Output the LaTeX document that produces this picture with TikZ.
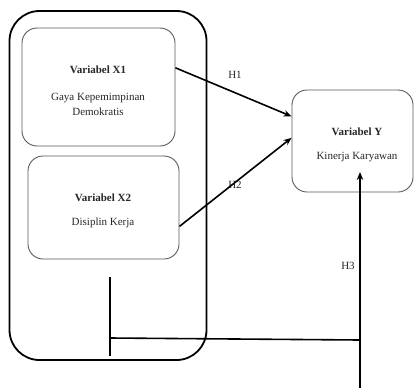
\documentclass[tikz,border=0pt]{standalone}
\usepackage{fontspec}
\setmainfont{Liberation Serif}
\usetikzlibrary{arrows.meta}
\begin{document}
\begin{tikzpicture}[x=1pt,y=-1pt,
  varbox/.style={draw=black!65,line width=0.9pt,rounded corners=15pt,inner sep=0pt},
  outerbox/.style={draw=black,line width=1.8pt,rounded corners=30pt,inner sep=0pt,minimum width=197pt,minimum height=349pt},
  txt/.style={font=\fontsize{11}{13}\selectfont,text=black!85,inner sep=0pt},
  btxt/.style={txt,font=\fontsize{11}{13}\selectfont\bfseries},
  conn/.style={line width=1.6pt,black},
  arr/.style={conn,-{Stealth[length=8pt,width=6.5pt]}}]
\useasboundingbox (0,0) rectangle (414,388);
\node[outerbox] (outer) at (108,185.5) {};
\node[varbox,minimum width=153pt,minimum height=118pt] (X1) at (98.5,87) {};
\node[varbox,minimum width=151pt,minimum height=103pt] (X2) at (103.5,207.5) {};
\node[varbox,minimum width=121pt,minimum height=102pt] (Y) at (352.5,141) {};
\node[btxt] (x1t) at (98,70) {Variabel X1};
\node[txt] (x1a) at (98,98) {Gaya Kepemimpinan};
\node[txt] (x1b) at (98,112) {Demokratis};
\node[btxt] (x2t) at (103,198) {Variabel X2};
\node[txt] (x2a) at (103,223) {Disiplin Kerja};
\node[btxt] (yt) at (357,132) {Variabel Y};
\node[txt] (ya) at (357,157) {Kinerja Karyawan};
\node[txt] (h1) at (235,75) {H1};
\node[txt] (h2) at (235,185) {H2};
\node[txt] (h3) at (348,266) {H3};
\coordinate (h3base) at (360,388);
\coordinate (h3tip) at (360,172);
\coordinate (hjoin) at (360,340);
\coordinate (vtop) at (110,277);
\coordinate (vbot) at (110,356);
\coordinate (hleft) at (110,338);
\draw[arr] (X1.14) -- (Y.158);
\draw[arr] (X2.-14) -- (Y.177);
\draw[arr] (h3base) -- (h3tip);
\draw[conn] (hleft) -- (hjoin);
\draw[conn] (vtop) -- (vbot);
\end{tikzpicture}
\end{document}
